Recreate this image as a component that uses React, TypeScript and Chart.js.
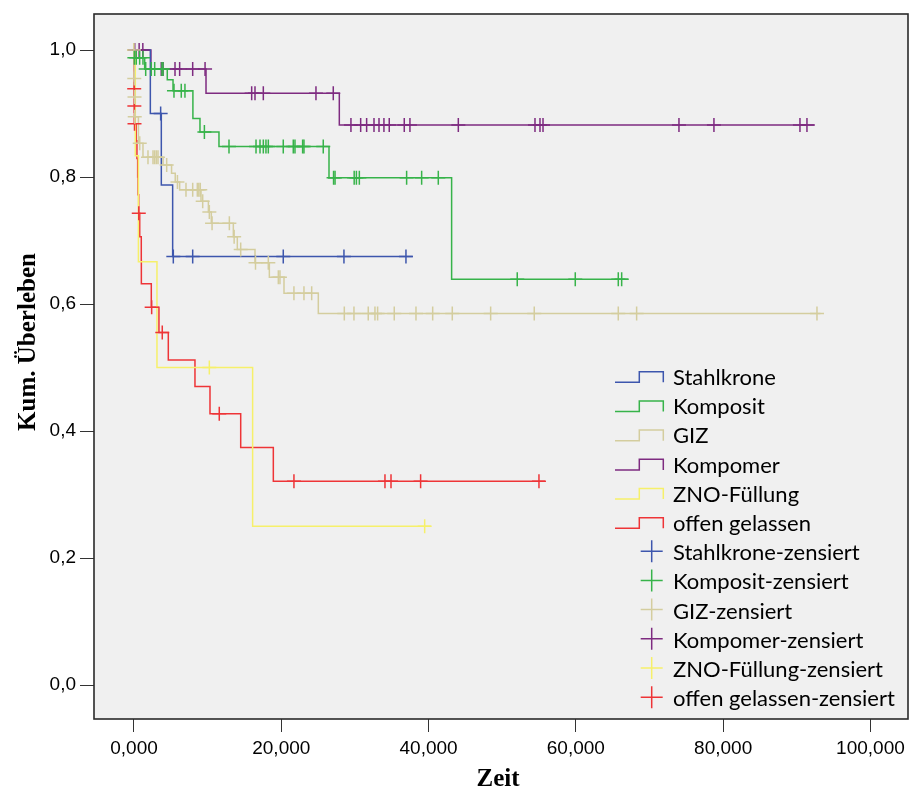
import React, { useEffect, useRef } from 'react';
import { Chart, registerables } from 'chart.js';

Chart.register(...registerables);

// Gruppen und Farben
const seriesNames = ['Stahlkrone', 'Komposit', 'GIZ', 'Kompomer', 'ZNO-Füllung', 'offen gelassen'];
const seriesColors = ['#3d56ad', '#37b34a', '#d4cd9e', '#7e2b80', '#f6f06a', '#ee3437'];

// Achsen
const xTickValues = [0, 20, 40, 60, 80, 100];
const yTickValues = [0, 0.2, 0.4, 0.6, 0.8, 1.0];

// Stahlkrone
const stahlkroneEventTimes = [2.22, 3.71, 5.25];
const stahlkroneSurvival = [0.9, 0.7875, 0.675];
const stahlkroneCensored = [3.62, 5.34, 7.97, 20.27, 28.51, 36.93];
const stahlkroneLastTime = 37.84;

// Komposit
const kompositEventTimes = [0, 1.45, 4.52, 5.3, 8.0, 8.96, 11.54, 26.48, 43.13];
const kompositSurvival = [0.988, 0.97, 0.953, 0.936, 0.892, 0.871, 0.848, 0.799, 0.639];
const kompositCensored = [
  0.05, 0.31, 0.77, 1.22, 1.59, 2.35, 2.81, 3.8, 3.94, 5.43, 6.42, 6.92, 9.56, 12.9, 16.57, 17.11,
  17.56, 17.92, 18.24, 20.27, 21.63, 21.86, 22.9, 23.08, 25.7, 27.1, 27.3, 29.9, 30.2, 30.6, 37.02,
  39.06, 41.32, 52.04, 59.92, 65.76, 66.22,
];
const kompositLastTime = 67.12;

// GIZ
const gizEventTimes = [
  0.03, 0.06, 0.09, 0.6, 1.22, 3.95, 5.1, 5.6, 6.2, 9.1, 10.1, 10.5, 13.49, 14.03, 16.43, 18.38,
  20.37, 25.03,
];
const gizSurvival = [
  0.955, 0.926, 0.895, 0.853, 0.831, 0.819, 0.806, 0.792, 0.78, 0.762, 0.745, 0.727, 0.706, 0.686,
  0.665, 0.642, 0.617, 0.585,
];
const gizCensored = [
  0.0, 0.04, 0.07, 0.1, 0.78, 1.9, 2.58, 2.8, 3.03, 3.26, 4.44, 5.9, 7.06, 7.97, 8.6, 8.8, 9.0,
  9.33, 10.23, 10.6, 12.95, 13.6, 14.49, 16.5, 18.24, 19.6, 19.82, 21.72, 23.08, 24.13, 28.56,
  29.87, 31.81, 32.72, 33.08, 35.34, 38.29, 40.56, 43.22, 48.43, 54.35, 65.76, 68.25, 92.74,
];
const gizLastTime = 93.2;

// Kompomer
const kompomerEventTimes = [2.3, 9.78, 27.88];
const kompomerSurvival = [0.97, 0.932, 0.882];
const kompomerCensored = [
  0.1, 0.7, 1.2, 3.7, 3.95, 5.57, 6.2, 7.97, 9.65, 15.98, 16.43, 17.56, 24.71, 27.06, 29.46, 30.78,
  31.59, 32.59, 33.27, 33.94, 34.66, 36.7, 37.47, 44.04, 54.45, 55.13, 55.54, 74.0, 78.75, 90.43,
  91.38,
];
const kompomerLastTime = 92.46;

// ZNO-Füllung
const znoEventTimes = [0.18, 0.6, 3.12, 16.11];
const znoSurvival = [0.8333, 0.6667, 0.5, 0.25];
const znoCensored = [0.0, 10.23, 39.47];
const znoLastTime = 40.33;

// offen gelassen
const offenEventTimes = [
  0.01, 0.02, 0.04, 0.06, 0.3, 0.4, 0.5, 0.55, 0.64, 0.78, 0.99, 1.0, 2.35, 3.39, 4.66, 8.28,
  10.32, 14.49, 18.92,
];
const offenSurvival = [
  0.97, 0.939, 0.912, 0.884, 0.857, 0.829, 0.8, 0.772, 0.743, 0.706, 0.669, 0.632, 0.595, 0.555,
  0.512, 0.47, 0.427, 0.374, 0.321,
];
const offenCensored = [0.03, 0.05, 0.07, 0.65, 2.4, 3.84, 11.58, 21.72, 34.08, 34.9, 38.92, 54.99];
const offenLastTime = 55.81;

type Group = { times: number[]; surv: number[]; censored: number[]; last: number };

const groups: Group[] = [
  { times: stahlkroneEventTimes, surv: stahlkroneSurvival, censored: stahlkroneCensored, last: stahlkroneLastTime },
  { times: kompositEventTimes, surv: kompositSurvival, censored: kompositCensored, last: kompositLastTime },
  { times: gizEventTimes, surv: gizSurvival, censored: gizCensored, last: gizLastTime },
  { times: kompomerEventTimes, surv: kompomerSurvival, censored: kompomerCensored, last: kompomerLastTime },
  { times: znoEventTimes, surv: znoSurvival, censored: znoCensored, last: znoLastTime },
  { times: offenEventTimes, surv: offenSurvival, censored: offenCensored, last: offenLastTime },
];

const survivalAt = (g: Group, t: number) => {
  let s = 1;
  g.times.forEach((et, i) => {
    if (et <= t) s = g.surv[i];
  });
  return s;
};

const curvePoints = (g: Group) => {
  const pts = [{ x: 0, y: 1 }];
  g.times.forEach((t, i) => pts.push({ x: t, y: g.surv[i] }));
  pts.push({ x: g.last, y: g.surv[g.surv.length - 1] });
  return pts;
};

const censorPoints = (g: Group) => g.censored.map((t) => ({ x: t, y: survivalAt(g, t) }));

const comma = (v: number, d: number) => v.toFixed(d).replace('.', ',');

const PLOT_BG = '#f0f0f0';
const FRAME = '#2a2a2a';

const framePlugin = {
  id: 'spssFrame',
  beforeDraw(chart: any) {
    const { ctx, chartArea: a } = chart;
    ctx.save();
    ctx.fillStyle = '#ffffff';
    ctx.fillRect(0, 0, chart.width, chart.height);
    ctx.fillStyle = PLOT_BG;
    ctx.fillRect(a.left, a.top, a.right - a.left, a.bottom - a.top);
    ctx.restore();
  },
  afterDatasetsDraw(chart: any) {
    const { ctx, chartArea: a } = chart;
    ctx.save();
    ctx.strokeStyle = FRAME;
    ctx.lineWidth = 1.6;
    ctx.strokeRect(a.left, a.top, a.right - a.left, a.bottom - a.top);
    ctx.restore();
  },
  afterDraw(chart: any) {
    const { ctx } = chart;
    ctx.save();
    // Achsentitel
    ctx.fillStyle = '#000';
    ctx.font = 'bold 25px "Liberation Serif", "Times New Roman", serif';
    ctx.textAlign = 'center';
    ctx.textBaseline = 'middle';
    ctx.save();
    ctx.translate(29, 342);
    ctx.rotate(-Math.PI / 2);
    ctx.fillText('Kum. Überleben', 0, 0);
    ctx.restore();
    ctx.fillText('Zeit', 498, 780);

    // Legende
    const labels = [...seriesNames, ...seriesNames.map((n) => n + '-zensiert')];
    ctx.font = '22px Lato, "Open Sans", sans-serif';
    ctx.textAlign = 'left';
    ctx.textBaseline = 'alphabetic';
    labels.forEach((label, i) => {
      const base = 385 + i * 29.2;
      const color = seriesColors[i % 6];
      ctx.strokeStyle = color;
      ctx.lineWidth = 1.5;
      ctx.beginPath();
      if (i < 6) {
        ctx.moveTo(615, base - 2.7);
        ctx.lineTo(639.3, base - 2.7);
        ctx.lineTo(639.3, base - 13.3);
        ctx.lineTo(663.3, base - 13.3);
        ctx.lineTo(663.3, base - 2.7);
      } else {
        const cx = 651.7;
        const cy = base - 9;
        ctx.moveTo(cx - 11, cy);
        ctx.lineTo(cx + 11, cy);
        ctx.moveTo(cx, cy - 11);
        ctx.lineTo(cx, cy + 11);
      }
      ctx.stroke();
      ctx.fillStyle = '#000';
      ctx.fillText(label, 673, base);
    });
    ctx.restore();
  },
};

export default function App() {
  const canvasRef = useRef<HTMLCanvasElement | null>(null);

  useEffect(() => {
    if (!canvasRef.current) return;

    const lineSets = groups.map((g, i) => ({
      label: seriesNames[i],
      data: curvePoints(g),
      showLine: true,
      stepped: 'before' as const,
      borderColor: seriesColors[i],
      backgroundColor: seriesColors[i],
      borderWidth: 1.5,
      pointRadius: 0,
      pointHoverRadius: 0,
      fill: false,
    }));

    const censorSets = groups.map((g, i) => ({
      label: seriesNames[i] + '-zensiert',
      data: censorPoints(g),
      showLine: false,
      pointStyle: 'cross' as const,
      pointRadius: 7,
      pointHoverRadius: 7,
      pointBorderWidth: 1.5,
      borderColor: seriesColors[i],
      backgroundColor: seriesColors[i],
    }));

    const tickFont = { family: '"Liberation Sans", Arial, sans-serif', size: 19 };

    const chart = new Chart(canvasRef.current, {
      type: 'scatter',
      data: { datasets: [...censorSets, ...lineSets] as any },
      options: {
        animation: false,
        responsive: false,
        devicePixelRatio: 1,
        layout: { autoPadding: false, padding: { top: 14, right: 2, left: 0, bottom: 0 } },
        plugins: {
          legend: { display: false },
          tooltip: { enabled: false },
        },
        scales: {
          x: {
            type: 'linear',
            min: -5.43,
            max: 105.1,
            afterBuildTicks: (scale: any) => {
              scale.ticks = xTickValues.map((v) => ({ value: v }));
            },
            afterFit: (scale: any) => {
              scale.height = 77;
              scale.paddingLeft = 0;
              scale.paddingRight = 0;
            },
            ticks: {
              callback: (v: any) => comma(Number(v), 3),
              font: tickFont,
              color: '#000',
              padding: 5,
              maxRotation: 0,
              autoSkip: false,
            },
            grid: {
              drawOnChartArea: false,
              drawTicks: true,
              tickLength: 13,
              color: '#333',
              lineWidth: 1,
            },
            border: { display: false },
          },
          y: {
            type: 'linear',
            min: -0.0535,
            max: 1.0567,
            afterBuildTicks: (scale: any) => {
              scale.ticks = yTickValues.map((v) => ({ value: v }));
            },
            afterFit: (scale: any) => {
              scale.width = 94;
              scale.paddingTop = 0;
              scale.paddingBottom = 0;
            },
            ticks: {
              callback: (v: any) => comma(Number(v), 1),
              font: tickFont,
              color: '#000',
              padding: 4,
              autoSkip: false,
            },
            grid: {
              drawOnChartArea: false,
              drawTicks: true,
              tickLength: 14,
              color: '#333',
              lineWidth: 1,
            },
            border: { display: false },
          },
        },
      },
      plugins: [framePlugin],
    });

    return () => chart.destroy();
  }, []);

  return (
    <div style={{ position: 'fixed', left: 0, top: 0, width: 910, height: 796, background: '#fff' }}>
      <canvas ref={canvasRef} width={910} height={796} style={{ display: 'block', width: 910, height: 796 }} />
    </div>
  );
}
